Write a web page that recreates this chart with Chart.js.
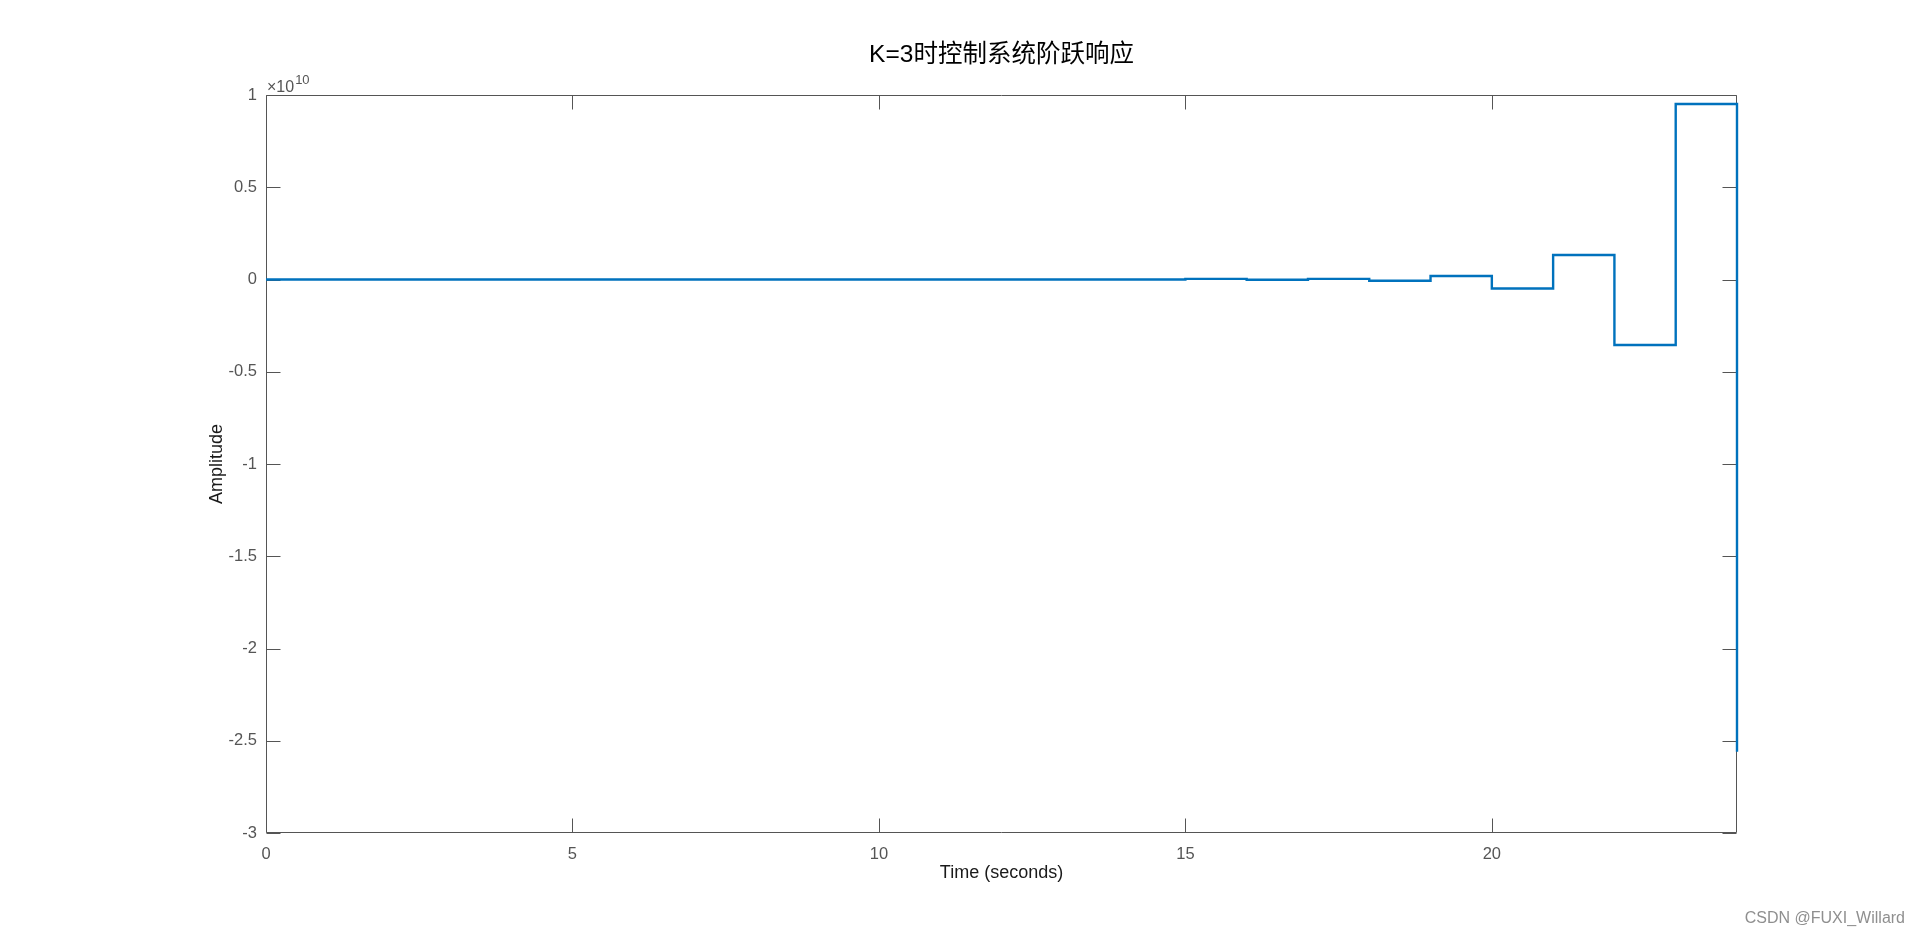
<!DOCTYPE html>
<html>
<head>
<meta charset="utf-8">
<style>
  html, body { margin: 0; padding: 0; background: #ffffff; }
  #wrap { width: 1920px; height: 937px; }
</style>
<script src="https://cdn.jsdelivr.net/npm/chart.js@4/dist/chart.umd.min.js"></script>
</head>
<body>
<div id="wrap"><canvas id="c" width="1920" height="937"></canvas></div>
<script>
// ---- Data ----
const titleText = 'K=3时控制系统阶跃响应';
const xLabel = 'Time (seconds)';
const yLabel = 'Amplitude';
const exponentLabel = '10';               // shown as ×10^10
const watermark = 'CSDN @FUXI_Willard';

// sample times (seconds)
const times = [0, 1, 2, 3, 4, 5, 6, 7, 8, 9, 10, 11, 12, 13, 14, 15, 16, 17, 18, 19, 20, 21, 22, 23, 24];
// amplitude in units of 1e10
const amplitude = [0, 0.0000000, 0.0000000, 0.0000001, -0.0000001, 0.0000002, -0.0000004, 0.000001,
  -0.000002, 0.000005, -0.00001, 0.00002, -0.00004, 0.00008, -0.00005, 0.0036, -0.0012, 0.0036,
  -0.0065, 0.0190, -0.0490, 0.1330, -0.3550, 0.9510, -2.5600];

const xTicks = [0, 5, 10, 15, 20];
const yTicks = [1, 0.5, 0, -0.5, -1, -1.5, -2, -2.5, -3];
const xRange = [0, 24];
const yRange = [-3, 1];

// ---- Styles ----
const FONT = "'Liberation Sans', Arial, 'Noto Sans CJK SC', sans-serif";
const AXIS_COLOR = '#555555';
const TICK_LEN = 14;

const boxAndTicks = {
  id: 'boxAndTicks',
  beforeDatasetsDraw(chart) {
    const {ctx, chartArea: a, scales: {x, y}} = chart;
    ctx.save();
    ctx.strokeStyle = AXIS_COLOR;
    ctx.lineWidth = 1;
    const L = Math.round(a.left) + 0.5, R = Math.round(a.right) - 0.5;
    const T = Math.round(a.top) + 0.5, B = Math.round(a.bottom) - 0.5;
    ctx.beginPath();
    ctx.rect(L, T, R - L, B - T);
    ctx.stroke();
    ctx.beginPath();
    xTicks.forEach(v => {
      const px = Math.round(x.getPixelForValue(v)) + 0.5;
      ctx.moveTo(px, B); ctx.lineTo(px, B - TICK_LEN);
      ctx.moveTo(px, T); ctx.lineTo(px, T + TICK_LEN);
    });
    yTicks.forEach(v => {
      const py = Math.round(y.getPixelForValue(v)) + 0.5;
      ctx.moveTo(L, py); ctx.lineTo(L + TICK_LEN, py);
      ctx.moveTo(R, py); ctx.lineTo(R - TICK_LEN, py);
    });
    ctx.stroke();
    ctx.restore();
  },
  afterDraw(chart) {
    const {ctx, chartArea: a} = chart;
    ctx.save();
    // exponent label ×10^10
    ctx.fillStyle = AXIS_COLOR;
    ctx.textBaseline = 'alphabetic';
    ctx.textAlign = 'left';
    ctx.font = '16px ' + FONT;
    const base = '\u00d710';
    ctx.fillText(base, a.left + 1, a.top - 3);
    const w = ctx.measureText(base).width;
    ctx.font = '13px ' + FONT;
    ctx.fillText(exponentLabel, a.left + 1 + w + 1, a.top - 11);
    // watermark
    ctx.fillStyle = '#8f8f8f';
    ctx.font = "16px " + FONT;
    ctx.textAlign = 'right';
    ctx.textBaseline = 'middle';
    ctx.fillText(watermark, 1905, 919);
    ctx.restore();
  }
};

new Chart(document.getElementById('c'), {
  type: 'line',
  data: {
    datasets: [{
      data: times.map((t, i) => ({x: t, y: amplitude[i]})),
      borderColor: '#0072BD',
      borderWidth: 2.4,
      pointRadius: 0,
      stepped: true,
      fill: false,
      clip: 6
    }]
  },
  options: {
    responsive: false,
    animation: false,
    layout: { padding: { left: 0, right: 183, top: 0, bottom: 0 } },
    plugins: {
      legend: { display: false },
      tooltip: { enabled: false },
      title: {
        display: true,
        fullSize: false,
        text: titleText,
        color: '#000000',
        font: { family: FONT, size: 24.5, weight: 'normal', lineHeight: 1.2 },
        padding: { top: 40.5, bottom: 25.1 }
      }
    },
    scales: {
      x: {
        type: 'linear',
        min: xRange[0], max: xRange[1],
        grid: { display: false },
        border: { display: false },
        afterBuildTicks: s => { s.ticks = xTicks.map(v => ({value: v})); },
        afterFit: s => { s.height = 104; },
        ticks: {
          color: AXIS_COLOR,
          padding: 4,
          maxRotation: 0,
          font: { family: FONT, size: 16.5 },
          callback: v => String(v)
        },
        title: {
          display: true,
          text: xLabel,
          color: '#1a1a1a',
          font: { family: FONT, size: 18 },
          padding: { top: 0, bottom: 53 }
        }
      },
      y: {
        type: 'linear',
        min: yRange[0], max: yRange[1],
        grid: { display: false },
        border: { display: false },
        afterBuildTicks: s => { s.ticks = yTicks.map(v => ({value: v})); },
        afterFit: s => { s.width = 266; },
        ticks: {
          color: AXIS_COLOR,
          padding: 1,
          font: { family: FONT, size: 16.5 },
          callback: v => String(v)
        },
        title: {
          display: true,
          text: yLabel,
          color: '#1a1a1a',
          font: { family: FONT, size: 18 },
          padding: { top: 206, bottom: 0 }
        }
      }
    }
  },
  plugins: [boxAndTicks]
});
</script>
</body>
</html>
